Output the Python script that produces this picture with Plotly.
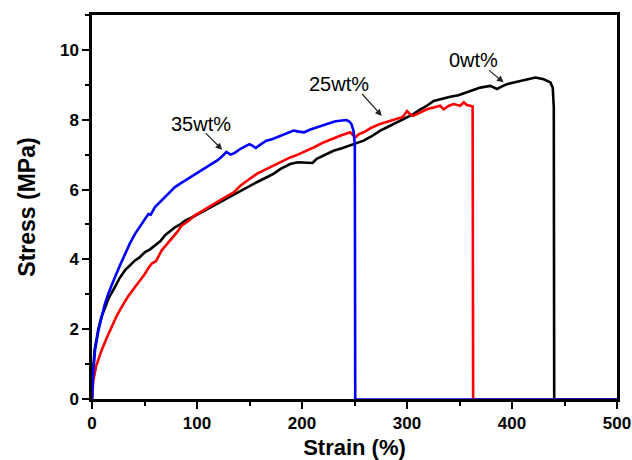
import plotly.graph_objects as go

# 0wt%
strain_0 = [0, 1, 2.5, 4, 6, 9, 12.4, 16, 21.9, 26, 31.5, 36, 41, 45, 50.5, 55, 60, 65, 69.6, 74, 79, 84,
            88.7, 95, 101, 108, 114, 120, 127, 133, 139.5, 149, 156.9, 165, 172.8, 180, 188.7, 196, 204.6,
            210, 214, 222, 230, 238, 245.9, 252, 258.6, 266, 274.5, 282, 290.4, 298, 306, 312, 318.9,
            325.4, 331.6, 341.2, 349, 357.1, 363, 369.8, 379.3, 385.7, 390, 395.2, 404.8, 414.3, 422.3,
            430.2, 436.6, 438.8, 439.8, 440.2, 500]
stress_0 = [0, 0.8, 1.4, 1.7, 2.0, 2.35, 2.64, 2.9, 3.21, 3.45, 3.69, 3.82, 3.97, 4.05, 4.21, 4.28, 4.4, 4.52,
            4.69, 4.8, 4.92, 5.0, 5.11, 5.2, 5.3, 5.4, 5.5, 5.6, 5.73, 5.82, 5.92, 6.08, 6.21, 6.33, 6.45,
            6.6, 6.73, 6.78, 6.78, 6.76, 6.88, 7.0, 7.11, 7.18, 7.26, 7.33, 7.4, 7.52, 7.69, 7.8, 7.92, 8.05,
            8.16, 8.28, 8.4, 8.54, 8.59, 8.66, 8.7, 8.78, 8.85, 8.92, 8.97, 8.88, 8.95, 9.02, 9.09, 9.16,
            9.21, 9.16, 9.07, 8.92, 8.35, 0, 0]

# 25wt%
strain_25 = [0, 1.3, 4, 6.5, 9.2, 14, 18.8, 23, 28.3, 34, 41, 46, 50.5, 53, 56.9, 61, 66.4, 71, 76, 81, 85.5,
             92, 98, 105, 111, 119, 127, 135, 141, 149, 156.9, 165, 172.8, 181, 188.7, 196, 204.6, 212,
             220.5, 228, 236.3, 245.9, 250.7, 254, 258.6, 266, 274.5, 282, 290.4, 296, 300, 303, 306, 312,
             318.9, 325.4, 331.6, 334.9, 340, 344.4, 350.7, 354, 357, 360.3, 362.5, 363, 500]
stress_25 = [0, 0.54, 0.95, 1.2, 1.4, 1.75, 2.07, 2.35, 2.64, 2.92, 3.21, 3.4, 3.59, 3.72, 3.88, 3.95, 4.26,
             4.42, 4.59, 4.78, 4.97, 5.1, 5.26, 5.38, 5.5, 5.62, 5.78, 5.92, 6.1, 6.28, 6.45, 6.57, 6.69,
             6.8, 6.92, 7.0, 7.11, 7.22, 7.35, 7.45, 7.54, 7.64, 7.5, 7.58, 7.64, 7.77, 7.88, 7.95, 8.02,
             8.08, 8.25, 8.15, 8.11, 8.2, 8.3, 8.35, 8.4, 8.3, 8.4, 8.45, 8.4, 8.5, 8.42, 8.4, 8.38, 0, 0]

# 35wt%
strain_35 = [0, 1, 2.9, 6, 9.2, 12, 15.6, 19, 22, 27, 31.5, 36, 41, 46, 50.5, 53.7, 56, 60, 65, 69.6, 74, 79,
             84, 88.7, 95, 101, 108, 114, 120, 125, 128, 132, 136, 141, 146, 150, 153, 156, 160, 166, 172,
             179, 186, 192, 197, 202, 208, 214.2, 220, 227, 231, 236, 242.3, 245, 247, 249, 250.3, 250.7, 500]
stress_35 = [0, 0.7, 1.4, 1.95, 2.35, 2.7, 3.02, 3.3, 3.5, 3.85, 4.16, 4.45, 4.73, 4.95, 5.16, 5.3, 5.28, 5.5,
             5.65, 5.78, 5.92, 6.07, 6.17, 6.26, 6.38, 6.5, 6.62, 6.73, 6.85, 6.98, 7.08, 7.0, 7.05, 7.16,
             7.25, 7.3, 7.25, 7.19, 7.28, 7.4, 7.45, 7.54, 7.62, 7.69, 7.66, 7.64, 7.72, 7.78, 7.84, 7.92,
             7.95, 7.97, 7.99, 7.95, 7.88, 7.69, 7.3, 0, 0]

labels = ["0wt%", "25wt%", "35wt%"]
colors = ["#000000", "#ff0000", "#0000ff"]
series = [(strain_0, stress_0), (strain_25, stress_25), (strain_35, stress_35)]

# label positions and arrow (tail -> tip) in data units
label_pos = [(363, 9.7), (235, 9.03), (104, 7.87)]
arrow_tail = [(376.8, 9.45), (256, 8.78), (106.8, 7.66)]
arrow_tip = [(392, 9.07), (276, 8.11), (124, 7.14)]

FONT = "Arial, Liberation Sans, sans-serif"

fig = go.Figure()
for (xs, ys), name, col in zip(series, labels, colors):
    n_break = len(xs) - 2  # index of last point before failure
    fig.add_trace(go.Scatter(x=xs[:n_break + 1], y=ys[:n_break + 1], mode="lines", name=name,
                             line=dict(color=col, width=2.6), showlegend=False))
    fig.add_trace(go.Scatter(x=xs[n_break:], y=ys[n_break:], mode="lines", name=name,
                             line=dict(color=col, width=1.6), showlegend=False))

for name, (tx, ty), (ax, ay), (hx, hy) in zip(labels, label_pos, arrow_tail, arrow_tip):
    fig.add_annotation(x=tx, y=ty, text=name, showarrow=False,
                       font=dict(family=FONT, size=20, color="#000000"))
    fig.add_annotation(x=hx, y=hy, ax=ax, ay=ay, axref="x", ayref="y", text="",
                       showarrow=True, arrowhead=2, arrowsize=1.1, arrowwidth=1.2, arrowcolor="#222222")

fig.update_layout(
    width=632, height=460,
    margin=dict(l=92, r=15, t=15, b=61),
    plot_bgcolor="white", paper_bgcolor="white",
    showlegend=False,
)
fig.update_xaxes(
    range=[0, 500], tickvals=[0, 100, 200, 300, 400, 500],
    showgrid=False, zeroline=False, automargin=False,
    showline=True, linecolor="black", linewidth=2.5, mirror=True,
    ticks="outside", ticklen=7, tickwidth=2, tickcolor="black",
    minor=dict(dtick=50, tick0=0, ticks="outside", ticklen=4, tickwidth=2, tickcolor="black", showgrid=False),
    tickfont=dict(family=FONT, size=17, color="black", weight="bold"),
    title=dict(text="Strain (%)", font=dict(family=FONT, size=22, color="black", weight="bold"), standoff=20),
)
fig.update_yaxes(
    range=[0, 11], tickvals=[0, 2, 4, 6, 8, 10],
    showgrid=False, zeroline=False, automargin=False,
    showline=True, linecolor="black", linewidth=2.5, mirror=True,
    ticks="outside", ticklen=7, tickwidth=2, tickcolor="black",
    minor=dict(dtick=1, tick0=0, ticks="outside", ticklen=4, tickwidth=2, tickcolor="black", showgrid=False),
    tickfont=dict(family=FONT, size=17, color="black", weight="bold"),
    title=dict(text="Stress (MPa)", font=dict(family=FONT, size=23, color="black", weight="bold"), standoff=18),
)

# remove the default 8px page margin so the 632x460 figure fills the window exactly
fig.write_html("out.html", config={"displayModeBar": False},
               post_script="document.body.style.margin='0';document.body.style.overflow='hidden';")
